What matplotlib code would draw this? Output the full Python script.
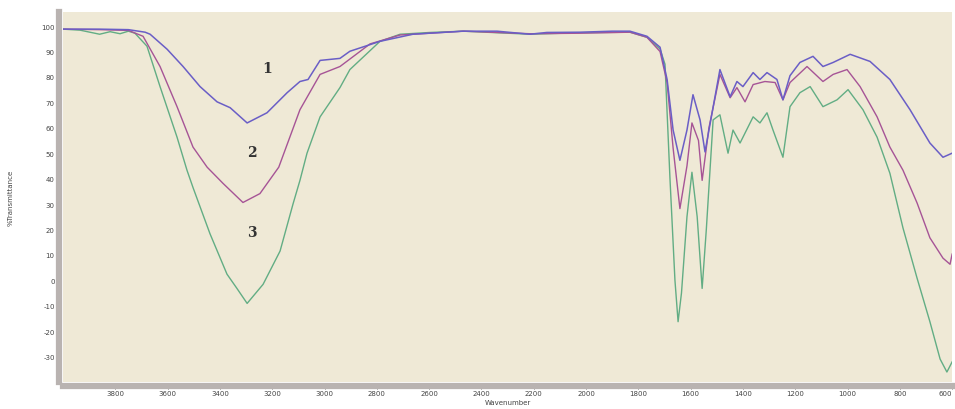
import matplotlib
matplotlib.use('agg')
import matplotlib.pyplot as plt
from matplotlib.ticker import MultipleLocator

plt.rcParams['axes.unicode_minus'] = False

# sample 1 (blue)
wn_1 = [4000, 3860, 3750, 3686, 3667, 3602, 3541, 3476, 3411, 3361, 3296, 3220, 3143,
        3094, 3063, 3017, 2941, 2903, 2788, 2662, 2470, 2340, 2214, 2150, 2023, 1900,
        1832, 1767, 1717, 1690, 1667, 1641, 1614, 1591, 1564, 1545, 1488, 1449, 1423,
        1400, 1361, 1335, 1308, 1270, 1247, 1220, 1182, 1132, 1094, 1055, 990, 914,
        838, 761, 685, 635, 600]
t_1 = [98.8, 98.8, 98.6, 97.6, 96.8, 90.9, 84.1, 76.2, 70.2, 67.9, 61.9, 65.9, 73.8,
       78.2, 79.0, 86.5, 87.3, 90.1, 94.0, 96.8, 98.0, 98.0, 96.8, 97.5, 97.6, 98.0,
       98.0, 96.0, 91.7, 79.0, 59.1, 47.2, 59.1, 73.0, 63.1, 50.5, 82.9, 72.2, 78.2,
       76.2, 81.7, 79.0, 81.7, 79.0, 71.0, 80.5, 85.7, 88.1, 84.1, 85.7, 88.9, 86.1,
       79.0, 67.1, 54.0, 48.4, 50.0]

# sample 2 (magenta)
wn_2 = [4000, 3860, 3750, 3694, 3629, 3564, 3503, 3449, 3388, 3312, 3247, 3175, 3094,
        3017, 2941, 2826, 2711, 2470, 2214, 2023, 1832, 1767, 1717, 1690, 1667, 1641,
        1614, 1595, 1570, 1556, 1530, 1488, 1449, 1423, 1392, 1361, 1316, 1277, 1247,
        1220, 1155, 1094, 1055, 1002, 952, 887, 838, 788, 734, 685, 635, 608, 600]
t_2 = [98.8, 98.6, 98.3, 96.0, 84.1, 68.3, 52.4, 44.5, 38.1, 30.6, 34.1, 44.5, 67.1,
       81.0, 84.1, 93.0, 96.5, 98.0, 97.0, 97.2, 97.6, 95.6, 90.0, 77.8, 52.0, 28.2,
       45.0, 61.9, 55.0, 39.3, 60.0, 81.0, 71.8, 75.8, 70.2, 77.0, 78.2, 77.8, 71.0,
       77.8, 84.1, 78.2, 81.0, 82.9, 76.2, 64.3, 52.4, 43.3, 30.4, 16.7, 8.7, 6.3, 10.3]

# sample 3 (green)
wn_3 = [4000, 3935, 3860, 3820, 3782, 3750, 3725, 3679, 3629, 3564, 3526, 3503, 3438,
        3373, 3335, 3296, 3235, 3170, 3120, 3094, 3067, 3017, 2941, 2903, 2788, 2711,
        2597, 2470, 2214, 2023, 1832, 1767, 1717, 1698, 1679, 1660, 1648, 1635, 1614,
        1595, 1575, 1556, 1540, 1514, 1488, 1457, 1438, 1411, 1361, 1335, 1308, 1285,
        1247, 1220, 1182, 1143, 1094, 1040, 998, 941, 887, 838, 788, 734, 685, 646,
        620, 600]
t_3 = [98.8, 98.4, 96.8, 97.8, 97.0, 98.0, 97.2, 92.1, 76.2, 56.3, 43.3, 36.5, 18.3,
       2.4, -3.2, -9.1, -1.6, 11.5, 30.2, 39.3, 50.0, 64.3, 75.8, 82.9, 94.0, 96.8,
       97.5, 98.0, 96.8, 97.4, 97.6, 95.6, 91.0, 85.0, 40.0, 0.0, -16.3, -5.0, 25.0,
       42.5, 25.0, -3.2, 20.0, 63.1, 65.1, 50.0, 59.1, 54.0, 64.3, 61.9, 65.9, 59.1,
       48.4, 68.3, 73.8, 76.2, 68.3, 71.0, 75.0, 67.1, 56.3, 42.1, 20.6, 0.8, -16.3,
       -31.0, -36.1, -32.1]

y_ticks = [-30, -20, -10, 0, 10, 20, 30, 40, 50, 60, 70, 80, 90, 100]
x_ticks = list(range(3800, 599, -200))

fig = plt.figure(figsize=(9.55, 4.1), dpi=100)
ax = fig.add_axes([0.066, 0.066, 0.931, 0.902])
ax.set_facecolor('#efe9d6')

ax.plot(wn_3, t_3, color='#62ad84', lw=1.0)
ax.plot(wn_2, t_2, color='#a65496', lw=1.0)
ax.plot(wn_1, t_1, color='#6a5ec6', lw=1.1)

ax.text(3239, 82, '1', family='DejaVu Serif', fontsize=10, fontweight='bold', color='#333333')
ax.text(3296, 49, '2', family='DejaVu Serif', fontsize=10, fontweight='bold', color='#333333')
ax.text(3296, 17.5, '3', family='DejaVu Serif', fontsize=10, fontweight='bold', color='#333333')

ax.set_xlim(4000, 600)
ax.set_ylim(-40, 105.5)
ax.set_xticks(x_ticks)
ax.set_yticks(y_ticks)
ax.xaxis.set_minor_locator(MultipleLocator(40))

for side in ['top', 'right']:
    ax.spines[side].set_visible(False)
for side in ['left', 'bottom']:
    ax.spines[side].set_color('#b9b3b1')
    ax.spines[side].set_linewidth(4.5)
    ax.spines[side].set_position(('outward', 3))

ax.tick_params(axis='both', which='major', labelsize=5, length=2, width=0.6,
               color='#555555', labelcolor='#444444', pad=1)
ax.tick_params(axis='x', which='minor', length=1.5, width=0.5, color='#777777')

# last label sits at the right edge, keep it inside the picture
ax.get_xticklabels()[-1].set_horizontalalignment('right')

ax.set_xlabel('Wavenumber', fontsize=5, color='#444444', labelpad=2)
ax.set_ylabel('%Transmittance', fontsize=5, color='#444444', labelpad=20)

plt.savefig('out.png', dpi=100)
